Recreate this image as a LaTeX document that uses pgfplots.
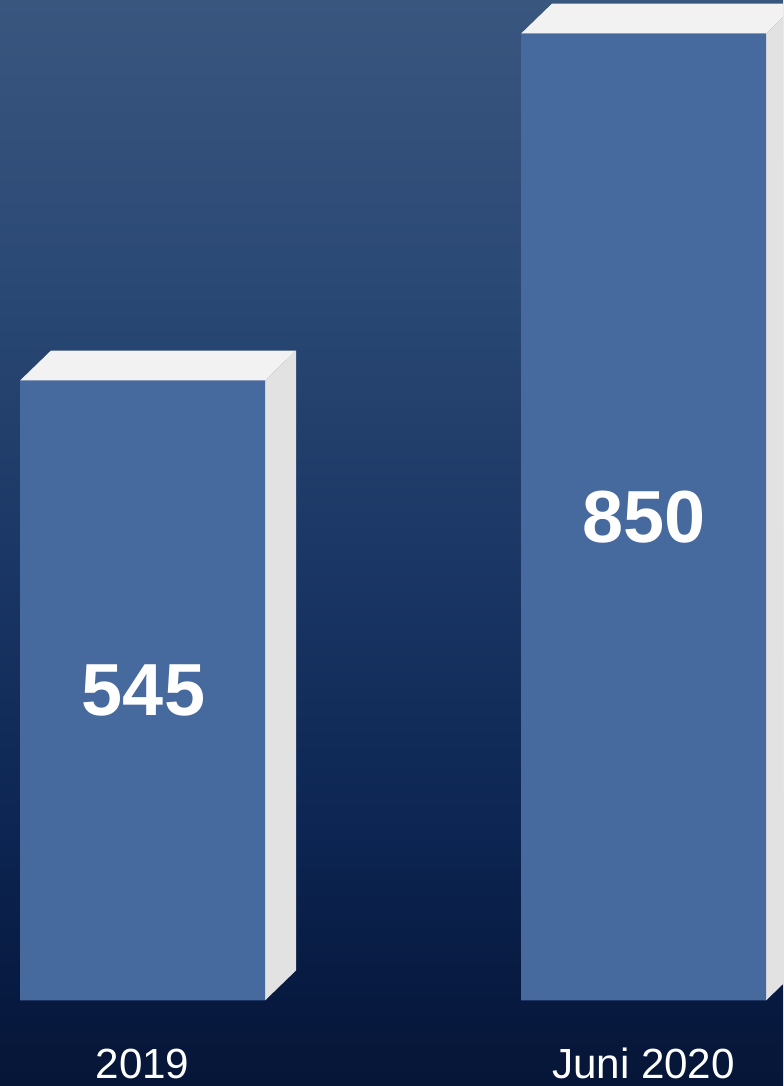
\documentclass[border=0pt]{standalone}
\usepackage{pgfplots}
\pgfplotsset{compat=1.18}
\usepackage{fontspec}
\setmainfont{Liberation Sans}

\definecolor{bgT}{HTML}{38567E}
\definecolor{bgA}{HTML}{2B4975}
\definecolor{bgB}{HTML}{1B3765}
\definecolor{bgC}{HTML}{0C2552}
\definecolor{bgD}{HTML}{07193F}
\definecolor{bgE}{HTML}{061637}
\definecolor{barF}{HTML}{476A9E}
\definecolor{topF}{HTML}{F2F2F2}
\definecolor{sideF}{HTML}{E2E2E2}

\pgfdeclareverticalshading{bgshade}{100bp}{color(0bp)=(bgE); color(25bp)=(bgE); color(28.8bp)=(bgD); color(36.7bp)=(bgC); color(49.5bp)=(bgB); color(62.25bp)=(bgA); color(75bp)=(bgT); color(100bp)=(bgT)}

\begin{document}
\begin{tikzpicture}
\begin{axis}[
  scale only axis, width=7.83cm, height=10.86cm,
  xmin=0, xmax=783, ymin=-75.2, ymax=879.6,
  axis line style={draw=none},
  axis background/.style={shade, shading=bgshade},
  ytick=\empty, xtick={142.5,643.5}, xticklabels={2019,Juni 2020},
  major tick length=0pt,
  xticklabel style={anchor=center, yshift=0.223cm, text=white,
    font=\fontsize{12}{14}\selectfont},
]
% 3D faces (depth: 31 px right, 26.4 units up)
\addplot[fill=topF, draw=none] coordinates {(20,545) (51,571.4) (296,571.4) (265,545)} -- cycle;
\addplot[fill=sideF, draw=none] coordinates {(265,0) (296,26.4) (296,571.4) (265,545)} -- cycle;
\addplot[fill=topF, draw=none] coordinates {(521,850) (552,876.4) (797,876.4) (766,850)} -- cycle;
\addplot[fill=sideF, draw=none] coordinates {(766,0) (797,26.4) (797,876.4) (766,850)} -- cycle;
% front faces
\addplot[ybar, bar width=245, bar shift=0pt, fill=barF, draw=none]
  coordinates {(142.5,545) (643.5,850)};
% value labels, centred at half height
\addplot[draw=none, mark=none, nodes near coords, point meta=explicit symbolic,
  every node near coord/.append style={anchor=center, text=white,
    font=\bfseries\fontsize{21}{24}\selectfont}]
  coordinates {(143.5,272.5) [545] (644,425) [850]};
\end{axis}
\pgfresetboundingbox
\path (current axis.south west) rectangle (current axis.north east);
\end{tikzpicture}
\end{document}
